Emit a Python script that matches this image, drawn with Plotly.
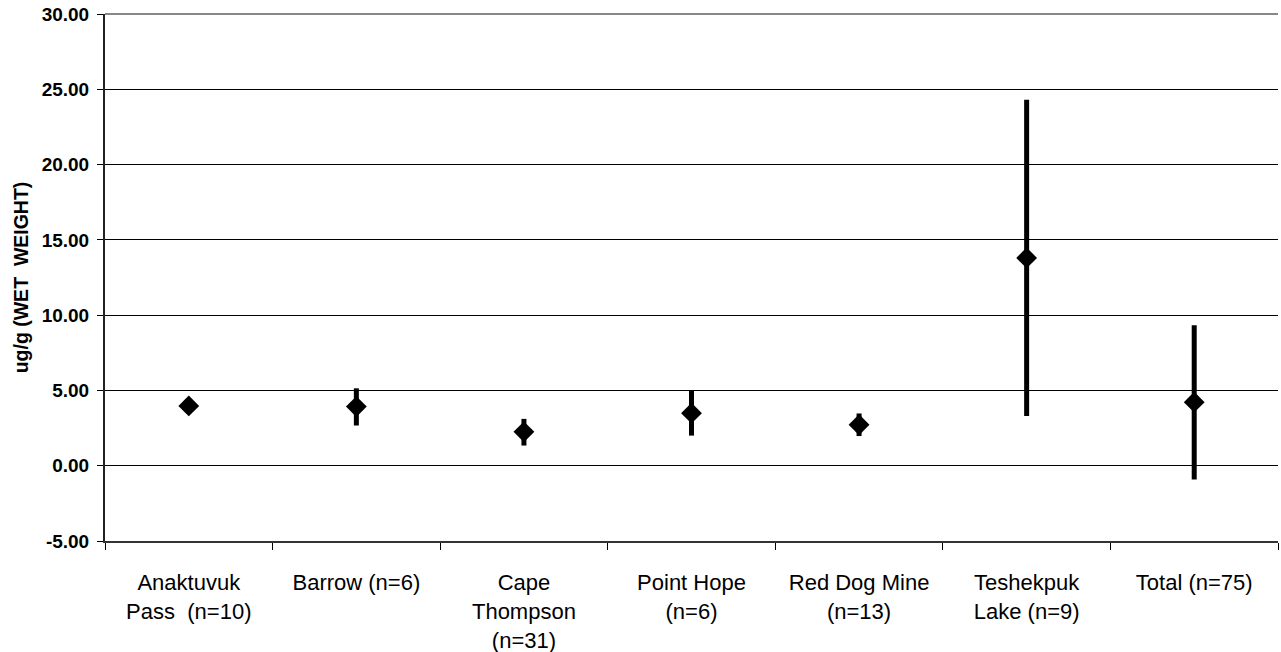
import plotly.graph_objects as go

categories = ["Anaktuvuk<br>Pass\u00a0\u00a0(n=10)", "Barrow (n=6)", "Cape<br>Thompson<br>(n=31)",
              "Point Hope<br>(n=6)", "Red Dog Mine<br>(n=13)", "Teshekpuk<br>Lake (n=9)", "Total (n=75)"]
means = [3.97, 3.93, 2.25, 3.49, 2.72, 13.8, 4.22]
upper = [4.35, 5.14, 3.11, 4.99, 3.47, 24.3, 9.33]
lower = [3.60, 2.67, 1.34, 2.00, 1.97, 3.30, -0.92]
y_ticks = [-5, 0, 5, 10, 15, 20, 25, 30]
y_tick_labels = ["-5.00", "0.00", "5.00", "10.00", "15.00", "20.00", "25.00", "30.00"]

xpos = list(range(len(categories)))
bounds = [i - 0.5 for i in range(len(categories) + 1)]
err_plus = [u - m for u, m in zip(upper, means)]
err_minus = [m - l for m, l in zip(means, lower)]

fig = go.Figure()
fig.add_trace(go.Scatter(
    x=xpos, y=means, mode="markers",
    marker=dict(symbol="diamond", size=16, color="black", line=dict(width=0)),
    error_y=dict(type="data", symmetric=False, array=err_plus, arrayminus=err_minus,
                 color="black", thickness=5, width=0),
    showlegend=False, hoverinfo="skip",
))

font = "Liberation Sans, Arial, sans-serif"
fig.update_layout(
    width=1281, height=652,
    margin=dict(l=105, r=3, t=14, b=111),
    paper_bgcolor="white", plot_bgcolor="white",
    font=dict(family=font, color="black"),
    xaxis=dict(range=[-0.5, len(categories) - 0.5], tickmode="array", tickvals=xpos,
               ticktext=categories, ticks="", ticklen=0, showgrid=False, zeroline=False,
               showline=True, linecolor="#333", linewidth=2, automargin=False,
               tickfont=dict(size=22, family=font), ticklabelstandoff=21,
               minor=dict(tickmode="array", tickvals=bounds, ticks="outside", ticklen=7,
                          tickwidth=1, tickcolor="black", showgrid=False)),
    xaxis2=dict(overlaying="x", anchor="y", side="bottom", range=[-0.5, len(categories) - 0.5],
                tickmode="array", tickvals=bounds, ticks="inside", ticklen=7, tickwidth=1,
                tickcolor="black", showticklabels=False, showgrid=False, zeroline=False,
                showline=False, automargin=False),
    yaxis=dict(range=[-5, 30], tickmode="array", tickvals=y_ticks, ticktext=y_tick_labels,
               ticks="outside", ticklen=6, tickwidth=1, tickcolor="black",
               showgrid=True, gridcolor="black", gridwidth=1, zeroline=False,
               showline=True, linecolor="#222", linewidth=2, automargin=False,
               tickfont=dict(size=19, family=font, weight="bold"), ticklabelstandoff=4,
               title=dict(text="ug/g (WET\u00a0\u00a0WEIGHT)", standoff=8,
                          font=dict(size=19.5, family=font, weight="bold"))),
    yaxis2=dict(overlaying="y", anchor="x", side="left", range=[-5, 30], tickmode="array",
                tickvals=y_ticks, ticks="inside", ticklen=6, tickwidth=1, tickcolor="black",
                showticklabels=False, showgrid=False, zeroline=False, showline=False,
                automargin=False),
    yaxis3=dict(overlaying="y", anchor="x", side="right", range=[-5, 30], showticklabels=False,
                ticks="", showgrid=False, zeroline=False, showline=True, linecolor="#888",
                linewidth=3, automargin=False),
)
fig.add_shape(type="line", xref="paper", yref="paper", x0=0, x1=1, y0=1, y1=1,
              line=dict(color="#888", width=2))

fig.write_html("out.html")
